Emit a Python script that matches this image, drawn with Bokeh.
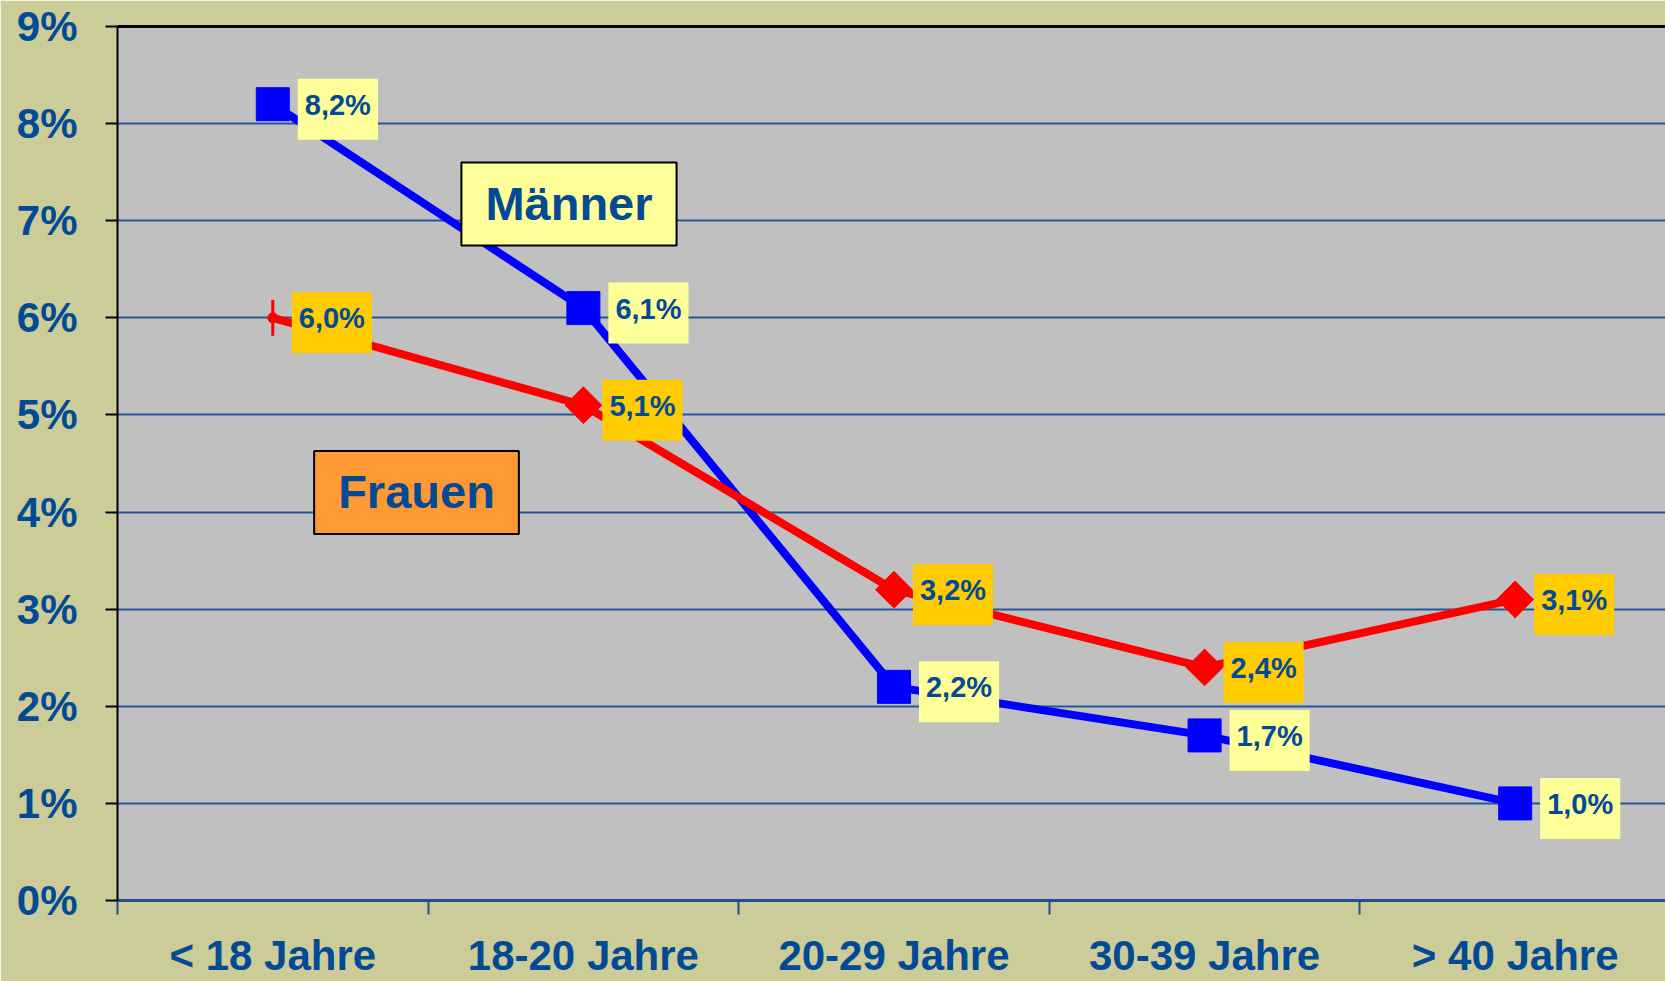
import math
from bokeh.plotting import figure
from bokeh.models import FixedTicker, Label, LinearAxis, Range1d
from bokeh.embed import file_html
from bokeh.resources import INLINE

# ---- data ----
categories = ["< 18 Jahre", "18-20 Jahre", "20-29 Jahre", "30-39 Jahre", "> 40 Jahre"]
maenner = [8.2, 6.1, 2.2, 1.7, 1.0]
frauen = [6.0, 5.1, 3.2, 2.4, 3.1]
y_ticks = [0, 1, 2, 3, 4, 5, 6, 7, 8, 9]
y_tick_labels = ["0%", "1%", "2%", "3%", "4%", "5%", "6%", "7%", "8%", "9%"]

TEXT = "#034A94"
FONT = "Liberation Sans"

x_pos = [i + 0.5 for i in range(len(categories))]
boundaries = list(range(len(categories)))

p = figure(width=1665, height=981, output_backend="svg", toolbar_location=None,
           x_range=Range1d(0, 4.984), y_range=Range1d(0, 9),
           min_border_left=117, min_border_right=0, min_border_top=26, min_border_bottom=81,
           background_fill_color="#C0C0C0", border_fill_color="#CCCC99",
           outline_line_color=None)

# x axis: labels at category centres, ticks at category boundaries
xa = p.xaxis[0]
xa.ticker = FixedTicker(ticks=x_pos, minor_ticks=boundaries)
xa.major_label_overrides = {x: c for x, c in zip(x_pos, categories)}
xa.axis_line_color = "#1F4F8F"
xa.axis_line_width = 3
xa.major_tick_out = 0
xa.major_tick_in = 0
xa.minor_tick_out = 14
xa.minor_tick_in = 0
xa.minor_tick_line_color = "#1F4F8F"
xa.minor_tick_line_width = 2
xa.major_label_text_font = FONT
xa.major_label_text_font_style = "bold"
xa.major_label_text_font_size = "42px"
xa.major_label_text_color = TEXT
xa.major_label_standoff = 17
p.xgrid.visible = False

# y axis
ya = p.yaxis[0]
ya.ticker = FixedTicker(ticks=y_ticks)
ya.major_label_overrides = {t: l for t, l in zip(y_ticks, y_tick_labels)}
ya.axis_line_color = "black"
ya.axis_line_width = 2
ya.major_tick_out = 12
ya.major_tick_in = 0
ya.major_tick_line_color = "black"
ya.major_tick_line_width = 2
ya.minor_tick_out = 0
ya.minor_tick_in = 0
ya.major_label_standoff = 28
ya.major_label_text_font = FONT
ya.major_label_text_font_style = "bold"
ya.major_label_text_font_size = "42px"
ya.major_label_text_color = TEXT
p.ygrid.ticker = FixedTicker(ticks=y_ticks)
p.ygrid.grid_line_color = "#24579A"
p.ygrid.grid_line_width = 2

# top border
top = LinearAxis(ticker=FixedTicker(ticks=[]), axis_line_color="black", axis_line_width=3,
                 major_tick_out=0, major_tick_in=0, minor_tick_out=0, minor_tick_in=0,
                 major_label_text_font_size="0px", major_label_standoff=0)
p.add_layout(top, "above")

# series
p.line(x_pos, maenner, line_color="#0000FF", line_width=8)
p.line(x_pos, frauen, line_color="#FF0000", line_width=8)
p.scatter(x_pos, maenner, marker="square", size=33, color="#0000FF")
p.scatter(x_pos[:1], frauen[:1], marker="dash", angle=math.pi / 2, size=36,
          line_color="#FF0000", line_width=3)
p.scatter(x_pos[:1], frauen[:1], marker="circle", size=10, color="#FF0000")
p.scatter(x_pos[1:], frauen[1:], marker="square", angle=math.pi / 4, size=26, color="#FF0000")


def fmt(v):
    return f"{v:.1f}".replace(".", ",") + "%"


def value_label(x, y, txt, fill, off):
    p.add_layout(Label(x=x, y=y, text=txt, x_offset=off, y_offset=-5, text_align="left",
                       text_baseline="middle", text_font=FONT, text_font_style="bold",
                       text_font_size="29px", text_color=TEXT,
                       background_fill_color=fill, border_line_color=None,
                       padding=dict(left=7, right=7, top=10, bottom=19)))


for xv, v in zip(x_pos, maenner):
    value_label(xv, v, fmt(v), "#FFFF99", 25)
for xv, v in zip(x_pos, frauen):
    value_label(xv, v, fmt(v), "#FFCC00", 19)

# series name boxes
for name, cx, cy, fill in [("Männer", 1.4536, 7.172, "#FFFF99"), ("Frauen", 0.9627, 4.201, "#FF9933")]:
    p.add_layout(Label(x=cx, y=cy, text=name, text_align="center", text_baseline="middle",
                       text_font=FONT, text_font_style="bold", text_font_size="47px",
                       text_color=TEXT, background_fill_color=fill,
                       border_line_color="black", border_line_width=2,
                       padding=dict(left=24, right=24, top=14, bottom=16)))

open("out.html", "w").write(file_html(p, INLINE))
